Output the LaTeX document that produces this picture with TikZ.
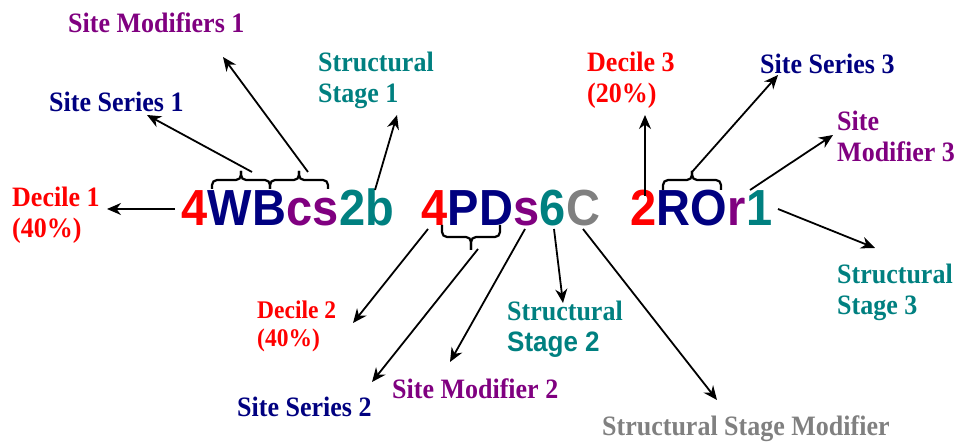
\documentclass[tikz,border=0pt]{standalone}
\usepackage{fontspec}
\usepackage{graphicx}
\setmainfont{Liberation Serif}
\setsansfont{Liberation Sans}
\usetikzlibrary{arrows.meta}
\definecolor{cRed}{HTML}{FF0000}
\definecolor{cNavy}{HTML}{000080}
\definecolor{cPurple}{HTML}{800080}
\definecolor{cTeal}{HTML}{008080}
\definecolor{cGray}{HTML}{808080}
\newcommand\vs[1]{\scalebox{1}[1.08]{#1}}
\begin{document}
\begin{tikzpicture}[x=1pt,y=-1pt,
  lbl/.style={anchor=north west, inner sep=0pt, align=left, font=\fontsize{26}{31}\selectfont\bfseries},
  lblsmall/.style={lbl, font=\fontsize{23.5}{28}\selectfont\bfseries},
  big/.style={anchor=base west, inner sep=0pt, font=\sffamily\bfseries\fontsize{47}{56}\selectfont},
  arr/.style={-{Stealth[length=14pt,width=12pt,inset=4.5pt]}, line width=1.8pt},
  brc/.style={line width=2.2pt, rounded corners=5pt}]
\useasboundingbox (0,0) rectangle (962,443);

% ---- code words ----
\node[big, text=cRed]    (w1a) at (181,226) {\vs{4}};
\node[big, text=cNavy]   (w1b) at (w1a.base east) {\vs{WB}};
\node[big, text=cPurple] (w1c) at (w1b.base east) {\vs{cs}};
\node[big, text=cTeal]   (w1d) at (w1c.base east) {\vs{2b}};

\node[big, text=cRed]    (w2a) at (421,226) {\vs{4}};
\node[big, text=cNavy]   (w2b) at (w2a.base east) {\vs{PD}};
\node[big, text=cPurple] (w2c) at (w2b.base east) {\vs{s}};
\node[big, text=cTeal]   (w2d) at (w2c.base east) {\vs{6}};
\node[big, text=cGray]   (w2e) at (w2d.base east) {\vs{C}};

\node[big, text=cRed]    (w3a) at (630,226) {\vs{2}};
\node[big, text=cNavy]   (w3b) at (w3a.base east) {\vs{RO}};
\node[big, text=cPurple] (w3c) at (w3b.base east) {\vs{r}};
\node[big, text=cTeal]   (w3d) at (w3c.base east) {\vs{1}};

% ---- braces ----
\draw[brc] (212,189) -- (212,180) -- (241,180) -- (241,171);
\draw[brc] (270,189) -- (270,180) -- (241,180) -- (241,171);
\draw[brc] (270,189) -- (270,180) -- (299,180) -- (299,171);
\draw[brc] (328,189) -- (328,180) -- (299,180) -- (299,171);
\draw[brc] (442,225) -- (442,237) -- (471,237) -- (471,250);
\draw[brc] (500,225) -- (500,237) -- (471,237) -- (471,250);
\draw[brc] (663,190) -- (663,180) -- (692,180) -- (692,171);
\draw[brc] (721,190) -- (721,180) -- (692,180) -- (692,171);

% ---- labels ----
\node[lbl, text=cPurple] (sm1)  at (68,13)   {\vs{Site Modifiers 1}};
\node[lbl, text=cNavy]   (ss1)  at (49,92)   {\vs{Site Series 1}};
\node[lbl, text=cTeal]   (st1)  at (318,52)  {\vs{Structural}\\\vs{Stage 1}};
\node[lbl, text=cRed]    (d1)   at (12,187)  {\vs{Decile 1}\\\vs{(40\%)}};
\node[lblsmall, text=cRed] (d2) at (257,301) {\vs{Decile 2}\\\vs{(40\%)}};
\node[lbl, text=cNavy]   (ss2)  at (237,397) {\vs{Site Series 2}};
\node[lbl, text=cPurple] (sm2)  at (392,379) {\vs{Site Modifier 2}};
\node[lbl, text=cTeal]   (st2)  at (507,301) {\vs{Structural}\\\vs{\sffamily Stage 2}};
\node[lbl, text=cGray]   (ssm)  at (602,416) {\vs{Structural Stage Modifier}};
\node[lbl, text=cRed]    (d3)   at (587,52)  {\vs{Decile 3}\\\vs{(20\%)}};
\node[lbl, text=cNavy]   (ss3)  at (760,54)  {\vs{Site Series 3}};
\node[lbl, text=cPurple] (sm3)  at (837,111) {\vs{Site}\\\vs{Modifier 3}};
\node[lbl, text=cTeal]   (st3)  at (837,264) {\vs{Structural}\\\vs{Stage 3}};

% ---- arrow end points ----
\coordinate (aD1s) at (175,209);  \coordinate (aD1e) at (107,209);
\coordinate (aS1s) at (252,172);  \coordinate (aS1e) at (147,115);
\coordinate (aM1s) at (308,172);  \coordinate (aM1e) at (223,57);
\coordinate (aT1s) at (375,190);  \coordinate (aT1e) at (397,115);
\coordinate (aD2s) at (428,229);  \coordinate (aD2e) at (353,323);
\coordinate (aS2s) at (478,249);  \coordinate (aS2e) at (372,382);
\coordinate (aM2s) at (525,229);  \coordinate (aM2e) at (450,362);
\coordinate (aT2s) at (554,229);  \coordinate (aT2e) at (563,303);
\coordinate (aXs)  at (583,229);  \coordinate (aXe)  at (717,400);
\coordinate (aD3s) at (645,196);  \coordinate (aD3e) at (645,115);
\coordinate (aS3s) at (692,172);  \coordinate (aS3e) at (778,75);
\coordinate (aM3s) at (750,190);  \coordinate (aM3e) at (833,135);
\coordinate (aT3s) at (778,209);  \coordinate (aT3e) at (875,248);

\draw[arr] (aD1s) -- (aD1e);
\draw[arr] (aS1s) -- (aS1e);
\draw[arr] (aM1s) -- (aM1e);
\draw[arr] (aT1s) -- (aT1e);
\draw[arr] (aD2s) -- (aD2e);
\draw[arr] (aS2s) -- (aS2e);
\draw[arr] (aM2s) -- (aM2e);
\draw[arr] (aT2s) -- (aT2e);
\draw[arr] (aXs)  -- (aXe);
\draw[arr] (aD3s) -- (aD3e);
\draw[arr] (aS3s) -- (aS3e);
\draw[arr] (aM3s) -- (aM3e);
\draw[arr] (aT3s) -- (aT3e);
\end{tikzpicture}
\end{document}
